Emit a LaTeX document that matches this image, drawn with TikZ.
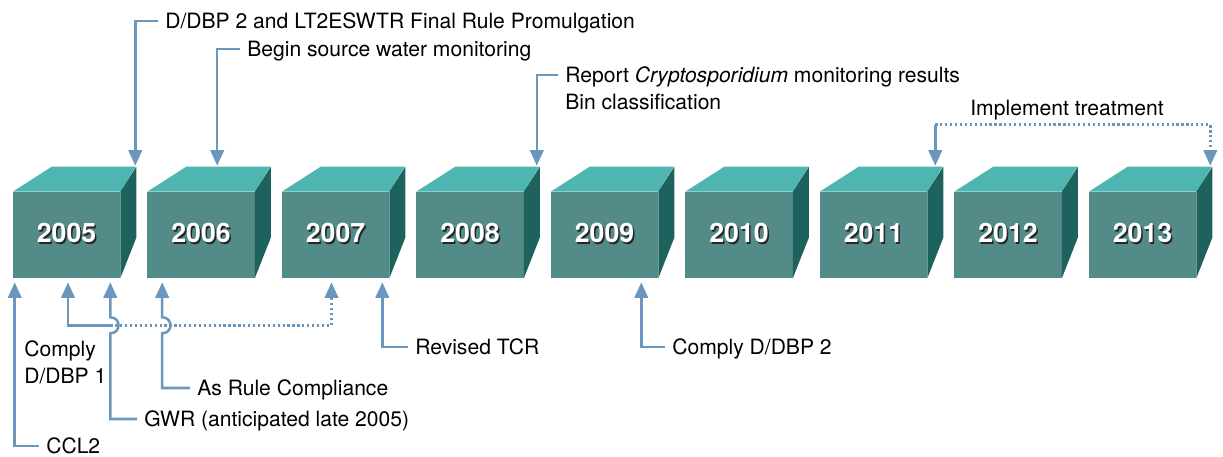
\documentclass[tikz,border=0pt]{standalone}
\usepackage{fontspec}
\setmainfont{TeX Gyre Heros}
\usetikzlibrary{arrows.meta,positioning,calc}
\definecolor{cubefront}{RGB}{83,139,136}
\definecolor{cubetop}{RGB}{79,181,177}
\definecolor{cubeside}{RGB}{29,98,93}
\definecolor{linkblue}{RGB}{108,151,189}

\tikzset{
  front/.style={fill=cubefront, minimum width=2.675cm, minimum height=2.15cm, inner sep=0pt},
  yeartext/.style={font=\bfseries\fontsize{19}{22}\selectfont, text=white, inner sep=0pt},
  yearshadow/.style={yeartext, text=black!85},
  lbl/.style={anchor=west, inner xsep=5pt, inner ysep=3.7pt, text height=11pt, text depth=0pt},
  link/.style={draw=linkblue, line width=1.8pt, -{Triangle[width=9.5pt,length=11pt]}},
  dots/.style={dash pattern=on 1.6pt off 1.9pt},
}

\begin{document}
\begin{tikzpicture}[x=0.025cm, y=-0.025cm, font=\fontsize{15}{18}\selectfont]
  \useasboundingbox (0,0) rectangle (1223,456);

  % one cube per year
  \foreach \yr [count=\i from 0] in {2005,...,2013} {
    \node[front] (y\yr) at (66.5+134.5*\i, 235) {};
    \fill[cubetop] (y\yr.north west) -- ++(39,-25) -- ++(84,0) -- (y\yr.north east) -- cycle;
    \fill[cubeside] (y\yr.north east) -- ++(16,-25) -- ++(0,71) -- (y\yr.south east) -- cycle;
    \node[yearshadow] at ($(y\yr)+(1.5,-0.5)$) {\yr};
    \node[yeartext] at ($(y\yr)+(0,-2)$) {\yr};
  }

  % events above the timeline
  \node[lbl] (promul) at (158,21) {D/DBP 2 and LT2ESWTR Final Rule Promulgation};
  \draw[link] (promul.west) -| ($(y2005.north east)+(15,-26)$);

  \node[lbl] (source) at (240,49) {Begin source water monitoring};
  \draw[link] (source.west) -| ($(y2006.north west)+(70,-26)$);

  \node[lbl] (crypto) at (558,75) {Report \textit{Cryptosporidium} monitoring results};
  \node[lbl, anchor=north west] (bin) at (crypto.south west) {Bin classification};
  \draw[link] (crypto.west) -| ($(y2008.north east)+(13,-26)$);

  \node (impl) at (1067,110) {Implement treatment};
  \coordinate (treat) at ($(y2011.north east)+(8,-67)$);
  \draw[link] (treat) -- ($(y2011.north east)+(8,-26)$);
  \draw[link, dots] (treat) -| ($(y2013.north east)+(14,-26)$);

  % events below the timeline
  \coordinate (hopA) at ($(y2005.south east)+(-10,47)$);
  \coordinate (hopB) at ($(y2006.south west)+(15,47)$);

  \node[lbl] (comply1) at (17,349) {Comply};
  \node[lbl, anchor=north west] (dbp1) at (comply1.south west) {D/DBP 1};
  \draw[link] (hopA) -| ($(y2005.south)+(1.5,4)$);
  \draw[link, dots] (hopA) -| ($(y2007.south)+(-4,4)$);

  \node[lbl] (ccl2) at (39,446) {CCL2};
  \draw[link] (ccl2.west) -| ($(y2005.south west)+(2,4)$);

  \node[lbl] (gwr) at (137,419) {GWR (anticipated late 2005)};
  \draw[link] (gwr.west) -| ($(hopA)+(0,8)$)
    .. controls ($(hopA)+(11,8)$) and ($(hopA)+(11,-8)$) .. ($(hopA)+(0,-8)$)
    -- ($(y2005.south east)+(-10,4)$);

  \node[lbl] (asrule) at (190,388) {As Rule Compliance};
  \draw[link] (asrule.west) -| ($(hopB)+(0,8)$)
    .. controls ($(hopB)+(11,8)$) and ($(hopB)+(11,-8)$) .. ($(hopB)+(0,-8)$)
    -- ($(y2006.south west)+(15,4)$);

  \node[lbl] (revtcr) at (408,347) {Revised TCR};
  \draw[link] (revtcr.west) -| ($(y2007.south east)+(-7,4)$);

  \node[lbl] (comply2) at (665,347) {Comply D/DBP 2};
  \draw[link] (comply2.west) -| ($(y2009.south east)+(-17,4)$);
\end{tikzpicture}
\end{document}
